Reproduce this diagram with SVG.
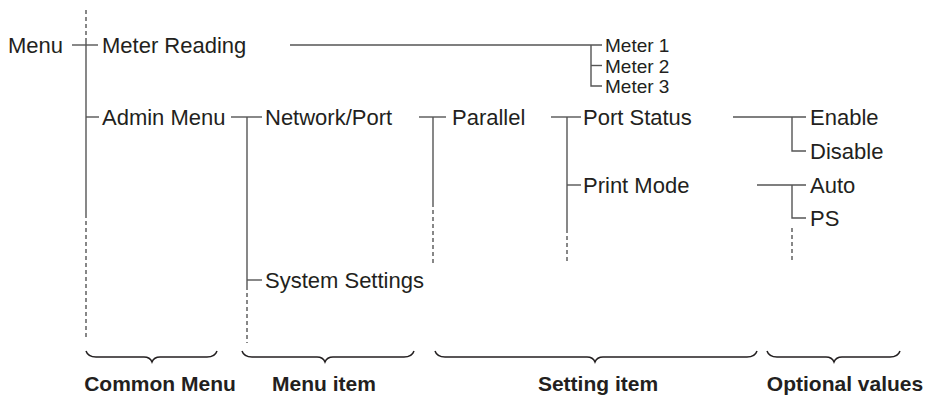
<svg xmlns="http://www.w3.org/2000/svg" width="928" height="396" viewBox="0 0 928 396">
<style>
text{font-family:"Liberation Sans",Arial,Helvetica,sans-serif;font-size:22px;fill:#231f20}
.m{font-size:19px}
.b{font-weight:bold;font-size:21px;text-anchor:middle}
.l{stroke:#555;stroke-width:1.4;fill:none}
.d{stroke:#555;stroke-width:1.4;fill:none;stroke-dasharray:4 3}
.br{stroke:#231f20;stroke-width:1.5;fill:none}
</style>
<rect width="928" height="396" fill="#fff"/>
<g id="connectors">
<line class="d" x1="86" y1="10" x2="86" y2="42"/>
<line class="l" x1="86" y1="42" x2="86" y2="218"/>
<line class="d" x1="86" y1="221" x2="86" y2="340"/>
<line class="l" x1="72" y1="45" x2="98" y2="45"/>
<line class="l" x1="86" y1="117" x2="99" y2="117"/>
<line class="l" x1="290" y1="45" x2="602" y2="45"/>
<polyline class="l" points="591,45 591,86 602,86"/>
<line class="l" x1="591" y1="65.5" x2="602" y2="65.5"/>
<line class="l" x1="231" y1="117" x2="262" y2="117"/>
<line class="l" x1="247" y1="117" x2="247" y2="290"/>
<line class="d" x1="247" y1="293" x2="247" y2="343"/>
<line class="l" x1="247" y1="280" x2="262" y2="280"/>
<line class="l" x1="419" y1="117" x2="446" y2="117"/>
<line class="l" x1="433" y1="117" x2="433" y2="207"/>
<line class="d" x1="433" y1="210" x2="433" y2="263"/>
<line class="l" x1="551" y1="117" x2="581" y2="117"/>
<line class="l" x1="567" y1="117" x2="567" y2="233"/>
<line class="d" x1="567" y1="236" x2="567" y2="263"/>
<line class="l" x1="567" y1="185" x2="581" y2="185"/>
<line class="l" x1="733" y1="117" x2="806" y2="117"/>
<polyline class="l" points="792,117 792,151 806,151"/>
<line class="l" x1="757" y1="185" x2="806" y2="185"/>
<polyline class="l" points="792,185 792,218 806,218"/>
<line class="d" x1="792" y1="228" x2="792" y2="262"/>
</g>
<g id="braces">
<path class="br" d="M86,351 Q88,357 96,357 L144,357 Q150,357 152,362 Q154,357 160,357 L207,357 Q215,357 217,351"/>
<path class="br" d="M242,351 Q244,357 252,357 L317,357 Q323,357 325,362 Q327,357 333,357 L404,357 Q412,357 414,351"/>
<path class="br" d="M435,351 Q437,357 445,357 L587,357 Q593,357 595,362 Q597,357 603,357 L747,357 Q755,357 757,351"/>
<path class="br" d="M767,351 Q769,357 777,357 L826,357 Q832,357 834,362 Q836,357 842,357 L890,357 Q898,357 900,351"/>
</g>
<g id="n-menu"><text x="8" y="53">Menu</text></g>
<g id="n-meter-reading"><text x="102" y="53">Meter Reading</text></g>
<g id="n-meter1"><text class="m" x="605" y="52">Meter 1</text></g>
<g id="n-meter2"><text class="m" x="605" y="72.5">Meter 2</text></g>
<g id="n-meter3"><text class="m" x="605" y="93">Meter 3</text></g>
<g id="n-admin"><text x="102" y="125">Admin Menu</text></g>
<g id="n-network"><text x="265" y="125">Network/Port</text></g>
<g id="n-system"><text x="265" y="288">System Settings</text></g>
<g id="n-parallel"><text x="452" y="125">Parallel</text></g>
<g id="n-portstatus"><text x="583" y="125">Port Status</text></g>
<g id="n-printmode"><text x="583" y="193">Print Mode</text></g>
<g id="n-enable"><text x="810" y="125">Enable</text></g>
<g id="n-disable"><text x="810" y="159">Disable</text></g>
<g id="n-auto"><text x="810" y="193">Auto</text></g>
<g id="n-ps"><text x="810" y="226">PS</text></g>
<g id="labels">
<text class="b" x="160" y="391">Common Menu</text>
<text class="b" x="324" y="391">Menu item</text>
<text class="b" x="598" y="391">Setting item</text>
<text class="b" x="845" y="391">Optional values</text>
</g>
</svg>
